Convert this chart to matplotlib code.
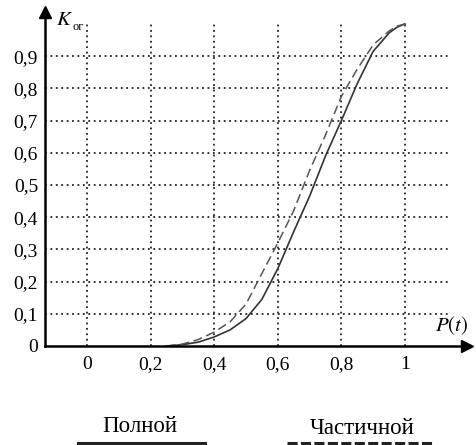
import matplotlib

matplotlib.use("Agg")
import matplotlib.pyplot as plt
from matplotlib.lines import Line2D

# Readings from the reference: probability P(t) vs coefficient K_og
p_values = [0.25, 0.30, 0.35, 0.40, 0.45, 0.50, 0.55, 0.60,
            0.65, 0.70, 0.75, 0.80, 0.85, 0.90, 0.95, 0.975, 1.00]
k_full = [0.0, 0.004, 0.012, 0.028, 0.05, 0.085, 0.145, 0.24,
          0.355, 0.465, 0.59, 0.70, 0.815, 0.915, 0.972, 0.99, 1.0]
k_partial = [0.0, 0.006, 0.02, 0.043, 0.075, 0.13, 0.225, 0.32,
             0.42, 0.545, 0.655, 0.775, 0.86, 0.935, 0.978, 0.993, 1.0]

x_ticks = [0, 0.2, 0.4, 0.6, 0.8, 1]
x_tick_labels = ["0", "0,2", "0,4", "0,6", "0,8", "1"]
y_ticks = [0.1, 0.2, 0.3, 0.4, 0.5, 0.6, 0.7, 0.8, 0.9]
y_tick_labels = ["0,1", "0,2", "0,3", "0,4", "0,5", "0,6", "0,7", "0,8", "0,9"]
legend_labels = ["Полной", "Частичной"]

plt.rcParams["font.family"] = ["Liberation Serif", "DejaVu Serif"]

W, H = 477, 445
fig = plt.figure(figsize=(W / 100, H / 100), dpi=100)

x0, x1 = -0.132, 1.195
y0, y1 = 0.0, 1.037
ax = fig.add_axes([45 / W, (H - 346) / H, (467 - 45) / W, (346 - 12) / H])
ax.set_xlim(x0, x1)
ax.set_ylim(y0, y1)

for s in ("top", "right"):
    ax.spines[s].set_visible(False)
for s in ("left", "bottom"):
    ax.spines[s].set_linewidth(1.8)
ax.plot(1, 0, ">k", ms=8, transform=ax.transAxes, clip_on=False)
ax.plot(0, 1, "^k", ms=8, transform=ax.transAxes, clip_on=False)

# dotted grid
ax.vlines(x_ticks, 0, 1.0, colors="#222222", linestyles=(0, (1, 2)), lw=1.3)
ax.hlines(y_ticks, x0, 1.135, colors="#222222", linestyles=(0, (1, 2)), lw=1.3)

ax.plot(p_values, k_full, color="#333333", lw=1.2)
ax.plot(p_values, k_partial, color="#555555", lw=1.1, dashes=(6, 3))

ax.set_xticks(x_ticks)
ax.set_xticklabels(x_tick_labels)
ax.set_yticks([0] + y_ticks)
ax.set_yticklabels(["0"] + y_tick_labels)
ax.tick_params(axis="both", length=0, labelsize=14)
ax.tick_params(axis="x", pad=7)
ax.tick_params(axis="y", pad=5)

ax.text(0.025, 0.975, "$K$", transform=ax.transAxes, fontsize=15,
        va="center", ha="left", math_fontfamily="stix")
ax.text(0.066, 0.955, "ог", transform=ax.transAxes, fontsize=9,
        va="center", ha="left")
ax.text(1.147, 0.063, "$P(t)$", fontsize=15, va="center", ha="center",
        math_fontfamily="stix")

# legend drawn under the chart
fig.text(140 / W, 1 - 426 / H, legend_labels[0], fontsize=16.5,
         ha="center", va="center")
fig.text(362 / W, 1 - 429 / H, legend_labels[1], fontsize=16.5,
         ha="center", va="center")
fig.add_artist(Line2D([78 / W, 205 / W], [2.5 / H, 2.5 / H], color="#222222",
                      lw=2.2, transform=fig.transFigure))
fig.add_artist(Line2D([287 / W, 433 / W], [2.0 / H, 2.0 / H], color="#222222",
                      lw=2.2, dashes=(3.3, 1.1), transform=fig.transFigure))

fig.savefig("out.png", dpi=100)
